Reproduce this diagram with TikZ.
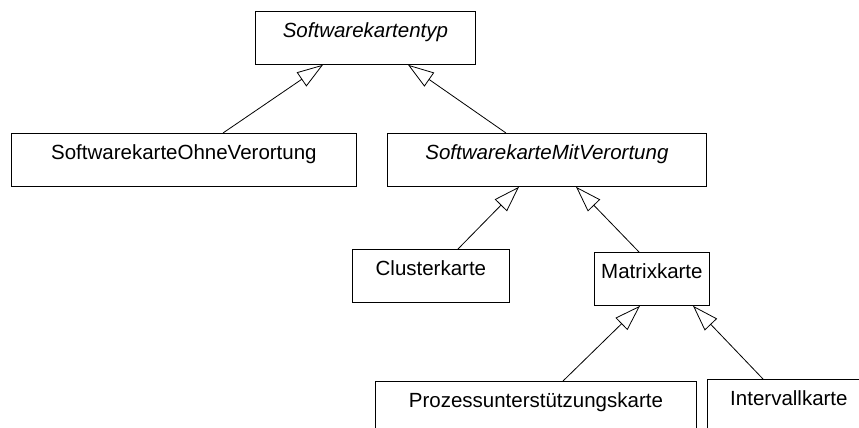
\documentclass[tikz,border=0pt]{standalone}
\usepackage{fontspec}
\setmainfont{Liberation Sans}
\usetikzlibrary{arrows.meta}

\tikzset{
  cls/.style={draw, line width=0.8pt, anchor=north west, inner sep=0pt,
    text height=26pt, text depth=27pt, align=center,
    font=\fontsize{20.5}{24}\selectfont},
  gen/.style={draw, line width=0.8pt,
    -{Triangle[open, length=26pt, width=17pt, line width=0.8pt]}}
}

\begin{document}
\begin{tikzpicture}[x=1pt, y=-1pt]
  \useasboundingbox (0,0) rectangle (859,428);

  % class boxes
  \node[cls, text width=220pt] (typ)  at (255,11)  {\itshape Softwarekartentyp};
  \node[cls, text width=345pt] (ohne) at (11,133)  {SoftwarekarteOhneVerortung};
  \node[cls, text width=319pt] (mit)  at (387,133) {\itshape SoftwarekarteMitVerortung};
  \node[cls, text width=157pt] (cluster) at (352,249) {Clusterkarte};
  \node[cls, text width=115pt] (matrix)  at (594,252) {Matrixkarte};
  \node[cls, text width=321pt] (prozess) at (375,381) {Prozessunterstützungskarte};
  \node[cls, text width=163pt] (intervall) at (707,379) {Intervallkarte};

  % generalisations
  \draw[gen] ([xshift=212pt]ohne.north west) -- ([xshift=68pt]typ.south west);
  \draw[gen] ([xshift=119pt]mit.north west) -- ([xshift=153pt]typ.south west);
  \draw[gen] ([xshift=106pt]cluster.north west) -- ([xshift=132pt]mit.south west);
  \draw[gen] ([xshift=45pt]matrix.north west) -- ([xshift=189pt]mit.south west);
  \draw[gen] ([xshift=188pt]prozess.north west) -- ([xshift=46pt]matrix.south west);
  \draw[gen] ([xshift=56pt]intervall.north west) -- ([xshift=99pt]matrix.south west);
\end{tikzpicture}
\end{document}
